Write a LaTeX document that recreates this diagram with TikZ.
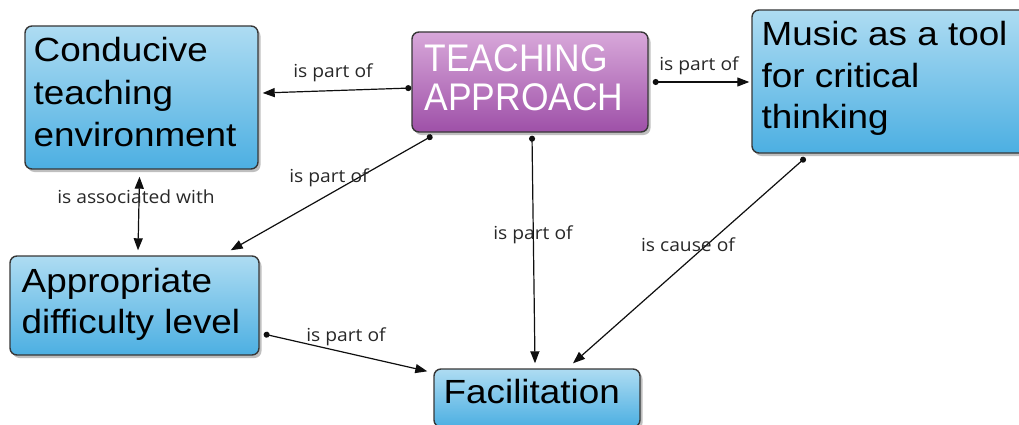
\documentclass[tikz,border=0pt]{standalone}
\usepackage{fontspec}
\setmainfont{Liberation Sans}
\newfontfamily\lblfont{Open Sans}
\usetikzlibrary{arrows.meta,shadows}
\definecolor{bluetop}{RGB}{174,220,242}
\definecolor{bluebot}{RGB}{76,175,226}
\definecolor{purtop}{RGB}{216,168,218}
\definecolor{purbot}{RGB}{158,80,168}
\definecolor{edgecol}{RGB}{55,55,55}
\definecolor{lblcol}{RGB}{40,40,40}
\definecolor{linecol}{RGB}{15,15,15}
\newcommand{\wl}[1]{\scalebox{1.1}[1]{#1}}
\newcommand{\nl}[1]{\scalebox{0.92}[1]{#1}}
\newcommand{\lbltext}[1]{\scalebox{1.07}[1]{#1}}
\begin{document}
\begin{tikzpicture}[x=1pt,y=-1pt,
  concept/.style={rectangle, rounded corners=7pt, draw=edgecol, line width=1.4pt,
    inner sep=0pt, drop shadow={shadow xshift=2.5pt, shadow yshift=-3pt, opacity=0.5}},
  bluebox/.style={concept, top color=bluetop, bottom color=bluebot},
  purplebox/.style={concept, top color=purtop, bottom color=purbot},
  boxtext/.style={inner sep=0pt, anchor=base west, text=black},
  lbl/.style={inner sep=0pt, text=lblcol, font=\lblfont\fontsize{18}{20}\selectfont},
  conn/.style={draw=linecol, line width=1.2pt, {Circle[length=6pt]}-{Triangle[length=12pt,width=9pt]}},
  both/.style={draw=linecol, line width=1.2pt, {Triangle[length=12pt,width=9pt]}-{Triangle[length=12pt,width=9pt]}}]
\useasboundingbox (0,0) rectangle (1019,425);
\clip (0,0) rectangle (1019,425);

% boxes
\node[bluebox, minimum width=233pt, minimum height=143pt] (cond) at (141.5,97.5) {};
\node[purplebox, minimum width=236pt, minimum height=100pt] (teach) at (530,82) {};
\node[bluebox, minimum width=283pt, minimum height=143pt] (music) at (893.5,81.5) {};
\node[bluebox, minimum width=249pt, minimum height=99pt] (appr) at (134.5,305.5) {};
\node[bluebox, minimum width=206pt, minimum height=58pt] (facil) at (537,398) {};

% box texts
\node[boxtext, font=\fontsize{33.5}{42.5}\selectfont] (condt) at (33.5,62)
  {\begin{tabular}[t]{@{}l@{}}\wl{Conducive}\\ \wl{teaching}\\ \wl{environment}\end{tabular}};
\node[boxtext, text=white, font=\fontsize{38.5}{38.5}\selectfont] (teacht) at (424.5,72)
  {\begin{tabular}[t]{@{}l@{}}\nl{TEACHING}\\ \nl{APPROACH}\end{tabular}};
\node[boxtext, font=\fontsize{33.5}{41.5}\selectfont] (musict) at (761.5,46)
  {\begin{tabular}[t]{@{}l@{}}\wl{Music as a tool}\\ \wl{for critical}\\ \wl{thinking}\end{tabular}};
\node[boxtext, font=\fontsize{33.5}{41}\selectfont] (apprt) at (21.5,292)
  {\begin{tabular}[t]{@{}l@{}}\wl{Appropriate}\\ \wl{difficulty level}\end{tabular}};
\node[boxtext, font=\fontsize{33.5}{41}\selectfont] (facilt) at (443.5,403)
  {\wl{Facilitation}};

% connectors
\draw[conn] ([shift={(0,6)}]teach.west) -- ([shift={(4,-4.5)}]cond.east);
\draw[conn] ([shift={(4,0)}]teach.east) -- ([shift={(-2,0.5)}]music.west);
\draw[conn] ([shift={(21,3)}]teach.south west) -- ([shift={(-29,-5)}]appr.north east);
\draw[conn] ([shift={(2,3)}]teach.south) -- ([shift={(-2,-5)}]facil.north);
\draw[conn] ([shift={(54,4)}]music.south west) -- ([shift={(36,-5)}]facil.north);
\draw[conn] ([shift={(4,28.5)}]appr.east) -- ([shift={(-6,3)}]facil.north west);
\draw[both] ([shift={(-2,7)}]cond.south) -- ([shift={(3.5,-5)}]appr.north);

% labels
\node[lbl] (l1) at (333,73) {\lbltext{is part of}};
\node[lbl] (l2) at (699,66) {\lbltext{is part of}};
\node[lbl] (l3) at (329,178) {\lbltext{is part of}};
\node[lbl] (l4) at (533,235) {\lbltext{is part of}};
\node[lbl] (l5) at (688,245) {\lbltext{is cause of}};
\node[lbl] (l6) at (346,337) {\lbltext{is part of}};
\node[lbl] (l7) at (136,197) {\lbltext{is associated with}};
\end{tikzpicture}
\end{document}
